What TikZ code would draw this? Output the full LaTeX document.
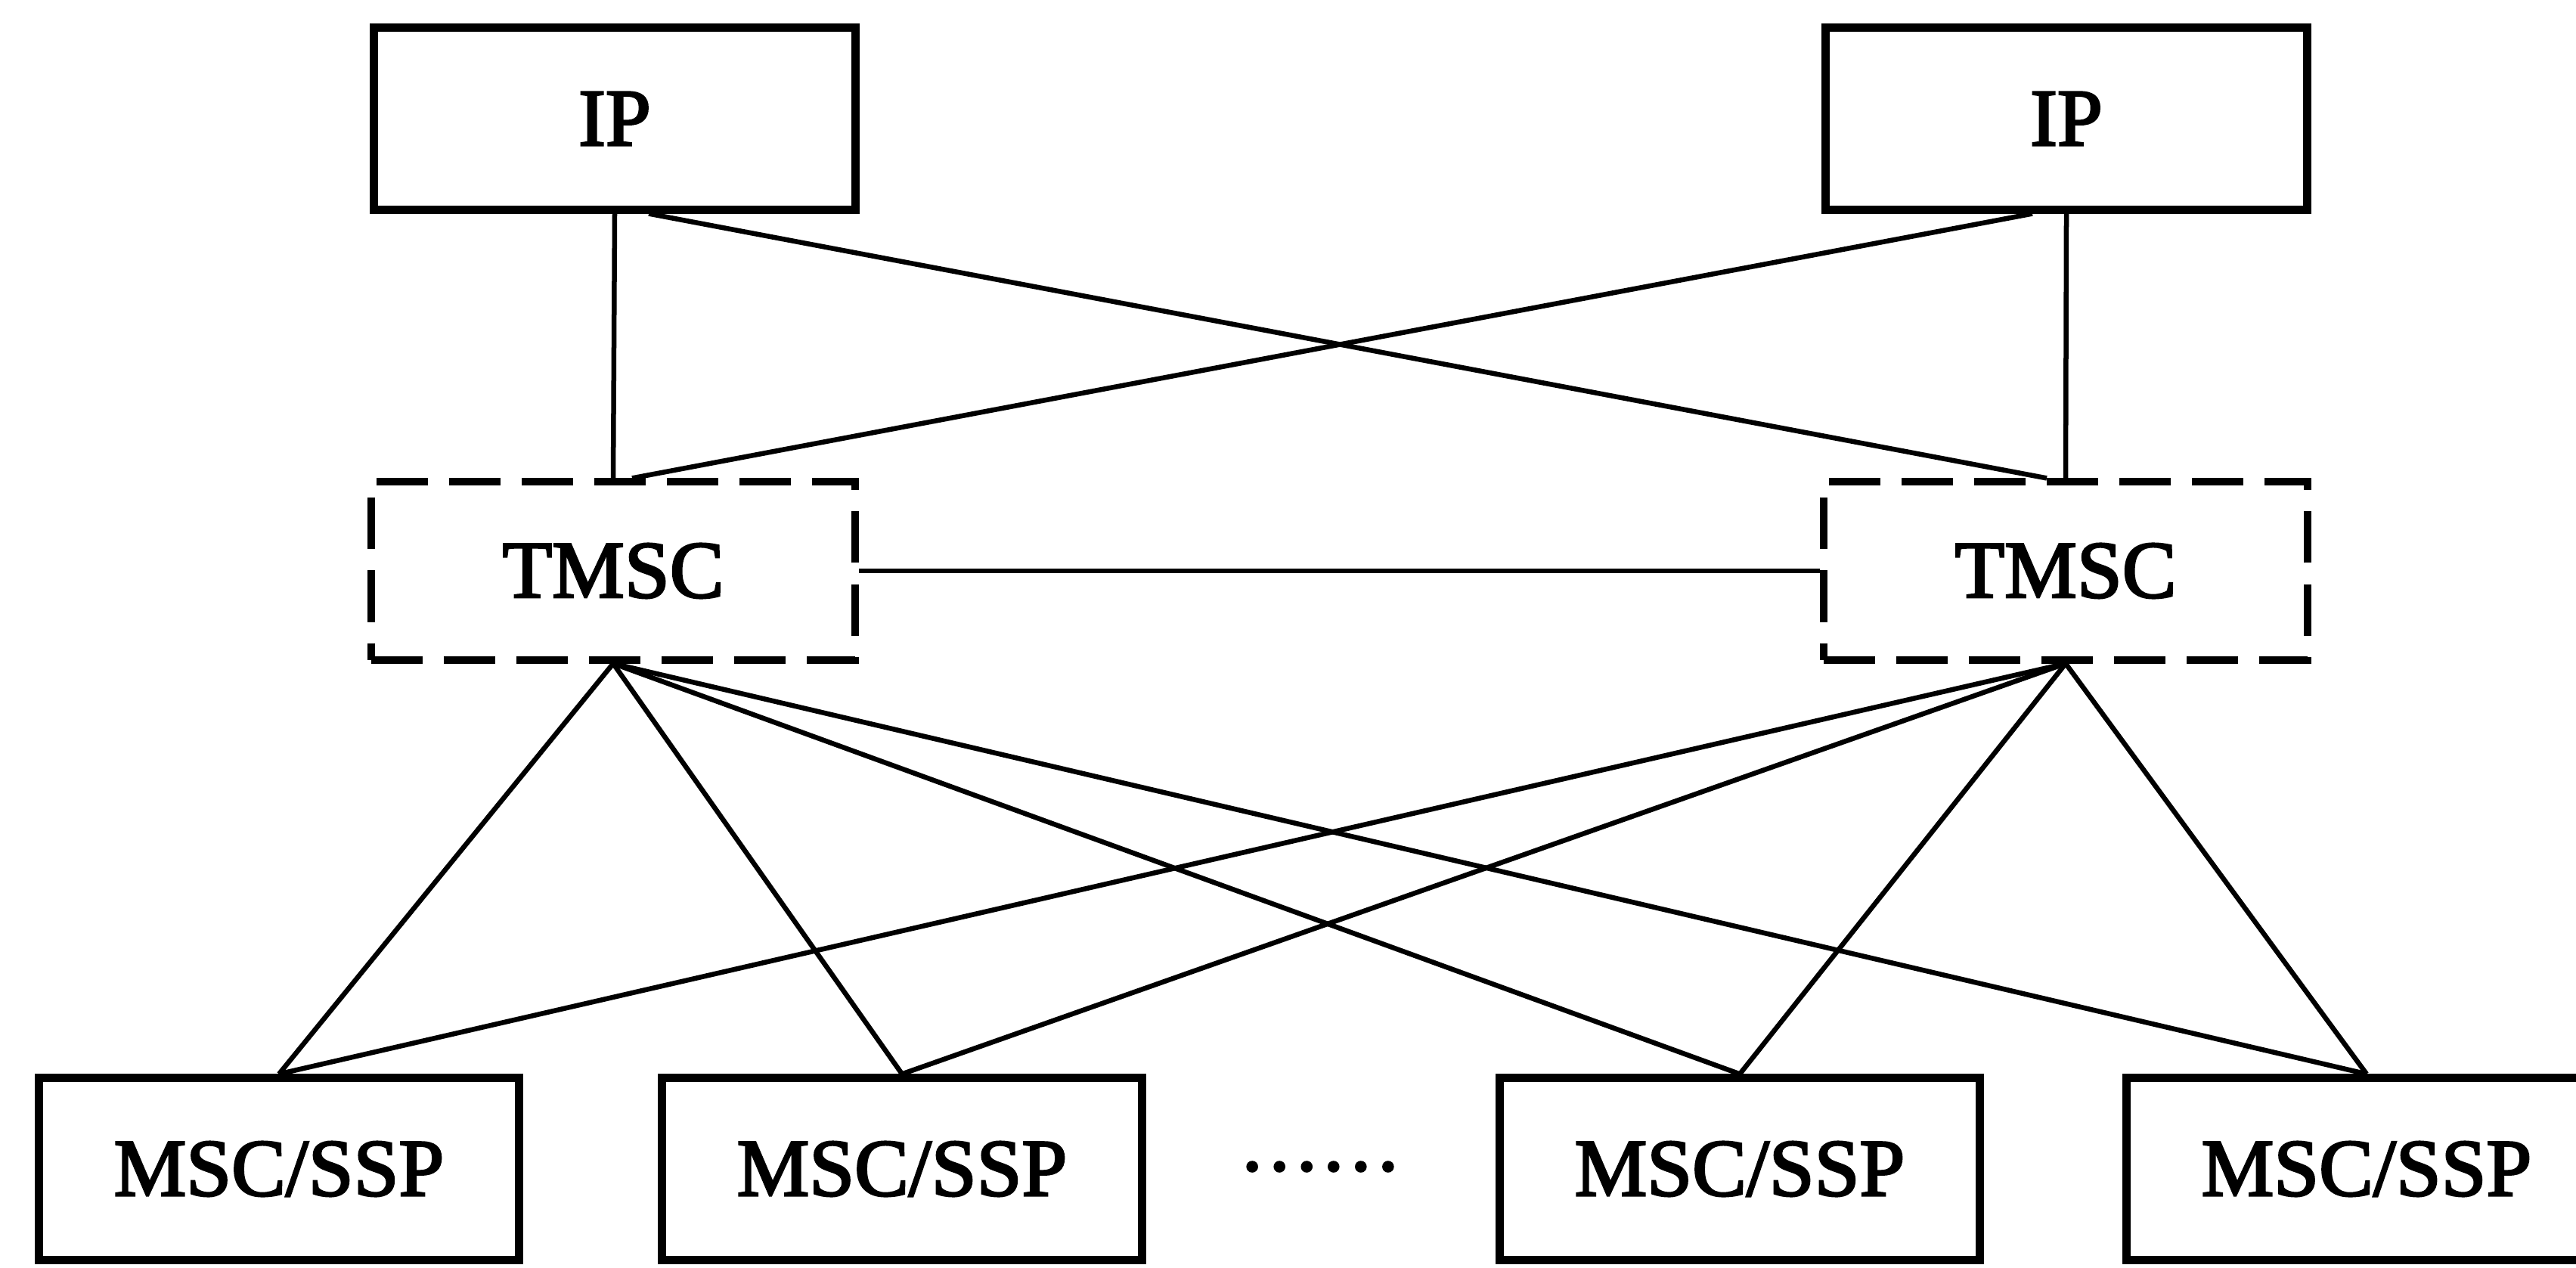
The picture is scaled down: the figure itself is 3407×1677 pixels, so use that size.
\documentclass[tikz,border=0pt]{standalone}
\usepackage{fontspec}
\setmainfont{Liberation Serif}[FakeBold=2.6]
\usetikzlibrary{positioning}

\begin{document}
\begin{tikzpicture}[x=0.01cm, y=-0.01cm, font=\fontsize{30.6}{36}\selectfont,
  ipbox/.style={draw, line width=0.11cm, minimum width=6.37cm, minimum height=2.4cm, inner sep=0pt},
  tmscbox/.style={draw, line width=0.1cm, dash pattern=on 0.68cm off 0.28cm, minimum width=6.4cm, minimum height=2.35cm, inner sep=0pt},
  mscbox/.style={draw, line width=0.11cm, minimum width=6.35cm, minimum height=2.4cm, inner sep=0pt},
  link/.style={line width=0.065cm}]

% ---- page frame (the last box runs off the right edge) ----
\useasboundingbox (0,0) rectangle (3407,1677);
\clip (0,0) rectangle (3407,1677);

% ---- top row: IP ----
\node[ipbox] (ipL) at (813,157) {IP};
\node[ipbox] (ipR) at (2733,157) {IP};

% ---- middle row: TMSC (dashed) ----
\node[tmscbox] (tmL) at (811,755) {TMSC};
\node[tmscbox] (tmR) at (2732,755) {TMSC};

% ---- bottom row: MSC/SSP ----
\foreach \i/\x in {1/369, 2/1193, 3/2301, 4/3130} {
  \node[mscbox] (msc\i) at (\x,1546) {MSC/SSP};
}
\node[inner sep=0pt] (dots) at (1746,1543) {……};

% ---- IP to TMSC ----
\draw[link] (ipL.south) -- (tmL.north);
\draw[link] (ipR.south) -- (tmR.north);
\draw[link] ([xshift=0.45cm]ipL.south) -- ([xshift=-0.25cm]tmR.north);
\draw[link] ([xshift=-0.45cm]ipR.south) -- ([xshift=0.25cm]tmL.north);

% TMSC to TMSC
\draw[link] (tmL.east) -- (tmR.west);

% ---- TMSC to every MSC/SSP ----
\foreach \t in {tmL, tmR} {
  \foreach \i in {1,...,4} {
    \draw[link] (\t.south) -- (msc\i.north);
  }
}

\end{tikzpicture}
\end{document}
